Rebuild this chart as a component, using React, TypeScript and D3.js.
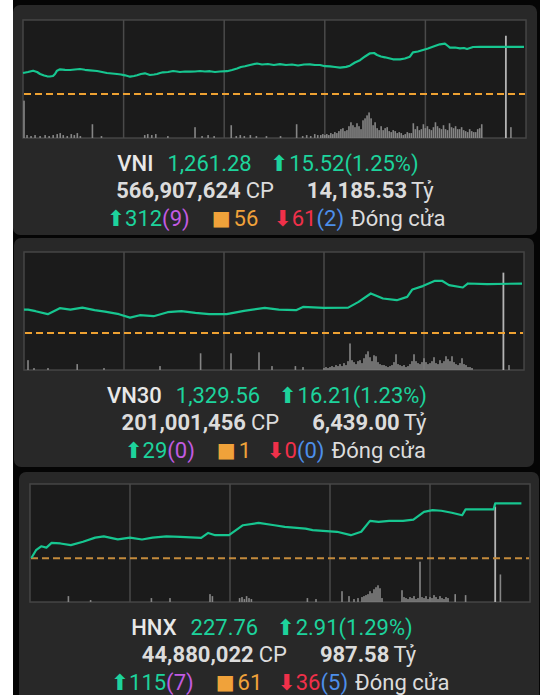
import React from "react";
import * as d3 from "d3";

// ---------- DATA ----------
// time slots: 0..250 across the session
const vniRef = 1245.76;
const vniLine: [number, number][] = [
  [0, 1252.69], [2.5, 1253.02], [5, 1253.45], [7, 1253.02], [8.5, 1252.36], [10.5, 1251.87], [12, 1251.6], [13.4, 1251.54],
  [14.9, 1251.7], [15.9, 1252.36], [16.9, 1253.45], [18.4, 1253.91], [20.9, 1253.75], [23.4, 1253.68], [25.8, 1253.85],
  [28.3, 1254.01], [30.8, 1253.75], [33.3, 1253.58], [36.8, 1253.35], [39.3, 1253.02], [41.7, 1252.69], [44.2, 1252.53],
  [46.7, 1252.36], [48.7, 1252.2], [50.7, 1251.93], [53.2, 1251.47], [55.2, 1251.7], [56.7, 1251.93], [58.6, 1252.36],
  [60.6, 1252.59], [63.1, 1252.03], [65.1, 1252.2], [66.6, 1252.36], [68.1, 1252.69], [69.6, 1252.92], [72.1, 1253.02],
  [74.6, 1253.35], [76.5, 1253.19], [78, 1253.02], [80.5, 1253.19], [83, 1253.12], [85.5, 1253.19], [88, 1253.35],
  [90.4, 1253.19], [92.9, 1253.28], [95.4, 1253.02], [97.9, 1253.19], [101.4, 1253.28], [103.9, 1253.68], [106.4, 1254.18],
  [108.3, 1254.67], [110.3, 1254.93], [112.8, 1255.33], [116.3, 1255.83], [118.8, 1255.5], [121.7, 1255.66], [124.7, 1255.33],
  [127.7, 1255.59], [130.7, 1255.33], [133.7, 1255.5], [136.7, 1255.17], [139.7, 1255.5], [142.6, 1255.56], [145.1, 1255.33],
  [147.6, 1255.33], [150.1, 1254.93], [152.6, 1254.9], [155.1, 1254.67], [157.6, 1254.44], [160.6, 1254.7], [162.5, 1255.1],
  [165, 1256.16], [167.5, 1256.91], [170, 1258.14], [172.5, 1259.19], [174.5, 1259.29], [176, 1258.63], [177.9, 1258.14],
  [179.9, 1257.87], [182.4, 1257.48], [183.9, 1257.21], [187.4, 1257.21], [189.8, 1257.48], [192.3, 1258.07], [193.8, 1259.52],
  [196.3, 1259.79], [198.8, 1260.28], [201.3, 1260.78], [202.3, 1261.04], [204.7, 1261.6], [207.2, 1262.16], [209.7, 1262.36],
  [211.2, 1261.6], [212.2, 1261.04], [214.7, 1261.11], [217.2, 1260.84], [219.2, 1260.94], [220.7, 1260.61], [222.2, 1260.94],
  [223.7, 1261.27], [227.1, 1261.28], [249, 1261.28],
];
const vniVolume: [number, number][] = [
  [0.5, 38], [2, 3], [4, 2], [6, 3], [8.5, 2], [11, 3], [13, 2], [15, 3], [17, 4], [18.5, 5], [20, 3], [22, 2], [24, 4],
  [25.5, 3], [27, 5], [28.5, 2], [34.5, 14], [39, 2], [60.5, 3], [62, 4], [64, 3], [66, 4], [72, 2], [85.5, 11], [89, 2],
  [92, 3], [95, 2], [103.5, 13], [106, 2], [108, 3], [110, 2], [113, 3], [116, 2], [121, 2], [128, 2], [136, 14], [139, 2],
  [141, 3], [143, 2], [145, 4], [146.5, 3], [240, 104], [242.5, 11],
];
const vniClusterStart = 148;
const vniCluster = [
  3, 4, 3, 4, 3, 5, 4, 6, 5, 7, 9, 10, 7, 8, 12, 16, 13, 11, 15, 12, 9, 18, 20, 23, 26, 20, 13, 16, 10, 8, 12, 8, 10, 11, 7,
  6, 8, 7, 5, 6, 5, 3, 4, 6, 5, 5, 15, 9, 12, 8, 9, 14, 10, 12, 9, 8, 11, 16, 12, 10, 9, 13, 9, 8, 15, 11, 10, 12, 9, 9, 11,
  8, 7, 6, 9, 7, 6, 6, 9, 10, 14,
];

const vn30Ref = 1313.35;
const vn30Line: [number, number][] = [
  [0, 1321.0], [2, 1321.03], [5.8, 1320.5], [11.9, 1319.52], [17.9, 1321.48], [23.2, 1321.03], [29.2, 1321.68], [35.3, 1320.83],
  [40.5, 1320.37], [47.5, 1319.52], [53, 1318.4], [57.9, 1319.19], [64.8, 1318.86], [71.8, 1320.17], [78.7, 1320.5],
  [85.7, 1319.94], [92.6, 1319.52], [101.3, 1319.52], [110, 1320.6], [120.4, 1321.58], [127.4, 1321.03], [136, 1320.83],
  [139.5, 1321.91], [149.9, 1321.58], [162.1, 1321.68], [167.3, 1323.55], [173.4, 1326.31], [179.5, 1324.67], [186.4, 1324.11],
  [191.6, 1325.19], [194.2, 1327.62], [199.4, 1328.73], [205.5, 1330.47], [209, 1330.47], [212.5, 1329.06], [219.4, 1328.27],
  [222, 1329.59], [231.6, 1329.39], [249, 1329.56],
];
const vn30Volume: [number, number][] = [
  [2, 10], [5, 2], [12, 2], [26.6, 6], [40, 2], [68, 4], [88.3, 17], [103.5, 17], [117.5, 18], [124, 4], [135.7, 4],
  [139.5, 3], [239.7, 99], [242.5, 5],
];
const vn30ClusterStart = 150;
const vn30Cluster = [
  2, 3, 2, 3, 4, 3, 5, 4, 6, 4, 7, 5, 9, 27, 10, 8, 6, 9, 10, 7, 12, 16, 19, 13, 9, 15, 14, 8, 6, 5, 5, 4, 3, 4, 5, 8, 16, 6,
  5, 4, 5, 3, 4, 6, 9, 16, 9, 7, 6, 8, 12, 8, 6, 7, 9, 13, 7, 6, 10, 7, 9, 14, 11, 9, 14, 8, 6, 5, 7, 12, 6, 5, 3, 3, 2,
];

const hnxRef = 224.85;
const hnxLine: [number, number][] = [
  [0.7, 224.86], [3, 225.27], [5.6, 225.48], [8.2, 225.41], [10.8, 225.66], [15.2, 225.63], [20.4, 225.54], [26.5, 225.72],
  [32.6, 225.94], [36.9, 226.01], [43.9, 225.85], [50, 225.94], [56, 225.84], [61.3, 225.94], [68.2, 226.01], [75.2, 225.98],
  [85.6, 225.93], [89.1, 226.19], [92.6, 226.07], [99.5, 226.07], [106.5, 226.6], [114.3, 226.72], [122.2, 226.6],
  [127.4, 226.51], [137.8, 226.42], [141.3, 226.34], [146.5, 226.3], [153.5, 226.25], [160.4, 226.07], [165.6, 226.25],
  [170, 226.83], [174.3, 226.78], [179.6, 226.83], [186.5, 226.83], [191.7, 226.9], [197, 227.31], [201.3, 227.4],
  [205.7, 227.37], [210.9, 227.26], [216.1, 227.13], [217.8, 227.44], [231.8, 227.44], [232.6, 227.76], [245.7, 227.76],
];
const hnxVolume: [number, number][] = [
  [19.2, 6], [30.3, 2], [60.7, 4], [70, 4], [90, 8], [91.2, 6], [104.8, 4], [106, 5], [107.2, 3], [108.3, 6], [109.5, 4],
  [110.7, 3], [138.7, 4], [143, 3], [156, 11], [159.5, 6], [162, 3], [164, 4], [166, 5], [212.6, 8], [217.8, 7],
  [232.6, 97], [235.2, 28],
];
const hnxClusterAStart = 167;
const hnxClusterA = [6, 7, 8, 11, 9, 13, 15, 17, 14, 4];
const hnxClusterBStart = 186;
const hnxClusterB = [12, 5, 4, 3, 5, 4, 6, 3, 4, 41, 5, 4, 6, 3, 5, 4, 7, 5, 3, 6, 4, 3, 5, 4];

// text
const indexNames = ["VNI", "VN30", "HNX"];
const closeValues = ["1,261.28", "1,329.56", "227.76"];
const changeTexts = ["15.52(1.25%)", "16.21(1.23%)", "2.91(1.29%)"];
const volumeTexts = ["566,907,624", "201,001,456", "44,880,022"];
const valueTexts = ["14,185.53", "6,439.00", "987.58"];
const advances = ["312", "29", "115"];
const ceilings = ["(9)", "(0)", "(7)"];
const unchanged = ["56", "1", "61"];
const declines = ["61", "0", "36"];
const floors = ["(2)", "(0)", "(5)"];
const statusText = "Đóng cửa";

// ---------- STYLE ----------
const C = {
  panel: "#282828",
  plot: "#1b1b1b",
  border: "#454545",
  grid: "#4a4a4a",
  line: "#17c690",
  green: "#1dd39c",
  white: "#e8e8e8",
  light: "#dcdcdc",
  purple: "#c25be2",
  orange: "#f0a23a",
  red: "#f0304a",
  blue: "#4d8fea",
  vol: "#858585",
  atc: "#b4b4b4",
};

type Cfg = {
  box: [number, number, number, number];
  plot: [number, number, number, number];
  domain: [number, number];
  ref: number;
  line: [number, number][];
  vol: [number, number][];
  clusters: { start: number; values: number[] }[];
  dash: string;
};

const panels: Cfg[] = [
  {
    box: [13, 5, 524, 230], plot: [23, 20, 503, 118], domain: [1231.24, 1270.18], ref: vniRef,
    line: vniLine, vol: vniVolume, clusters: [{ start: vniClusterStart, values: vniCluster }], dash: "#eea132",
  },
  {
    box: [14, 238, 520, 229], plot: [24, 252, 500, 118], domain: [1301.22, 1339.91], ref: vn30Ref,
    line: vn30Line, vol: vn30Volume, clusters: [{ start: vn30ClusterStart, values: vn30Cluster }], dash: "#eea132",
  },
  {
    box: [19, 472, 520, 240], plot: [30, 484, 500, 118], domain: [222.52, 228.79], ref: hnxRef,
    line: hnxLine, vol: hnxVolume,
    clusters: [{ start: hnxClusterAStart, values: hnxClusterA }, { start: hnxClusterBStart, values: hnxClusterB }],
    dash: "#c48b3c",
  },
];

const FONT = "Roboto, 'Noto Sans', sans-serif";
const ARROW_FONT = "'DejaVu Sans', sans-serif";

function ChartPanel({ cfg, i }: { cfg: Cfg; i: number }) {
  const [bx, by, bw, bh] = cfg.box;
  const [px, py, pw, ph] = cfg.plot;
  const x = d3.scaleLinear().domain([0, 250]).range([px, px + pw]);
  const y = d3.scaleLinear().domain(cfg.domain).range([py + ph, py]);
  const v = d3.scaleLinear().domain([0, 120]).range([py + ph, py]);
  const path = d3.line<[number, number]>().x((d) => x(d[0])).y((d) => y(d[1]))(cfg.line) || "";
  const bars: [number, number][] = [
    ...cfg.vol,
    ...cfg.clusters.flatMap((c) => c.values.map((val, k) => [c.start + k, val] as [number, number])),
  ];
  const gridT = [50, 100, 150, 200];
  const bw1 = (x(1) - x(0)) * 0.8;
  const cx = bx + bw / 2;
  const base = py + ph;
  const fs = 22;
  const afs = 22;

  return (
    <g>
      <rect x={bx} y={by} width={bw} height={bh} rx={7} fill={C.panel} />
      <rect x={px} y={py} width={pw} height={ph} fill={C.plot} stroke={C.border} strokeWidth={1.5} />
      {gridT.map((t) => (
        <line key={t} x1={x(t)} x2={x(t)} y1={py} y2={py + ph} stroke={C.grid} strokeWidth={1.5} />
      ))}
      {bars.map(([t, val], k) => (
        <rect
          key={k}
          x={x(t) - (val > 60 ? 0.9 : bw1 / 2)}
          y={v(val)}
          width={val > 60 ? 1.8 : bw1}
          height={base - v(val)}
          fill={val > 60 ? C.atc : C.vol}
        />
      ))}
      <line x1={px + 1} x2={px + pw - 1} y1={y(cfg.ref)} y2={y(cfg.ref)} stroke={cfg.dash} strokeWidth={2} strokeDasharray="7,4" />
      <path d={path} fill="none" stroke={C.line} strokeWidth={2.2} strokeLinejoin="round" />

      <text x={cx - 7} y={base + 33} textAnchor="middle" fontFamily={FONT} fontSize={fs}>
        <tspan fill={C.white} fontWeight={500}>{indexNames[i]}</tspan>
        <tspan dx={14} fill={C.green}>{closeValues[i]}</tspan>
        <tspan dx={18} fill={C.green} fontFamily={ARROW_FONT} fontSize={afs}>⬆</tspan>
        <tspan dx={1} fill={C.green}>{changeTexts[i]}</tspan>
      </text>
      <text x={cx} y={base + 60} textAnchor="middle" fontFamily={FONT} fontSize={fs} fill={C.light}>
        <tspan fontWeight={700}>{volumeTexts[i]}</tspan>
        <tspan dx={5}>CP</tspan>
        <tspan dx={33} fontWeight={700}>{valueTexts[i]}</tspan>
        <tspan dx={4}>Tỷ</tspan>
      </text>
      <text x={cx + 1} y={base + 88} textAnchor="middle" fontFamily={FONT} fontSize={fs}>
        <tspan fill={C.green} fontFamily={ARROW_FONT} fontSize={afs}>⬆</tspan>
        <tspan dx={0} fill={C.green}>{advances[i]}</tspan>
        <tspan fill={C.purple}>{ceilings[i]}</tspan>
        <tspan dx={22} dy={-1} fill={C.orange} fontFamily={ARROW_FONT} fontSize={20}>■</tspan>
        <tspan dx={3} dy={1} fill={C.orange}>{unchanged[i]}</tspan>
        <tspan dx={15} fill={C.red} fontFamily={ARROW_FONT} fontSize={afs}>⬇</tspan>
        <tspan dx={0} fill={C.red}>{declines[i]}</tspan>
        <tspan fill={C.blue}>{floors[i]}</tspan>
        <tspan dx={7} fill={C.light}>{statusText}</tspan>
      </text>
    </g>
  );
}

export default function App() {
  return (
    <svg
      width={546}
      height={695}
      style={{ position: "absolute", left: 0, top: 0, background: "#ffffff" }}
    >
      <rect x={13} y={0} width={527} height={695} fill="#050505" />
      {panels.map((p, i) => (
        <ChartPanel key={i} cfg={p} i={i} />
      ))}
    </svg>
  );
}
